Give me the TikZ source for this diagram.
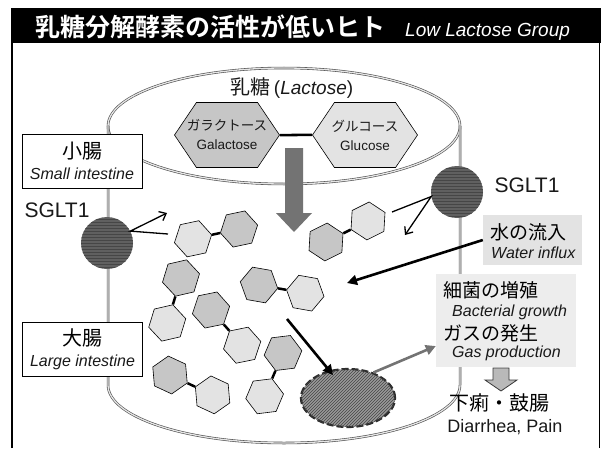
\documentclass[tikz,border=0pt]{standalone}
\usepackage{fontspec}
\setmainfont{Liberation Sans}
\newfontfamily\jp[BoldFont={Noto Sans CJK JP Bold}]{Noto Sans CJK JP}
\usetikzlibrary{shapes.geometric,shapes.symbols,arrows.meta,patterns}

\colorlet{galac}{gray!45}
\colorlet{gluc}{gray!22}
\colorlet{ink}{gray!20!black}
\newcommand{\slimtext}[1]{\makebox[0pt]{#1}}

\begin{document}
\begin{tikzpicture}[x=1pt,y=1pt,
    cyl/.style={draw=gray!60!black, double=gray!20, double distance=1.3pt, line width=0.6pt},
    hexa/.style={regular polygon, regular polygon sides=6, minimum size=38pt, inner sep=0pt, draw=black, line width=0.6pt},
    sugar/.style={signal, signal to=west and east, signal pointer angle=112, minimum width=105pt, minimum height=65pt,
      inner sep=0pt, draw=black, line width=0.6pt, align=center, font=\fontsize{13.5}{19}\selectfont, text=ink},
    bond/.style={line width=2.5pt},
    organ/.style={draw, fill=white, line width=0.6pt, minimum width=120pt, minimum height=54pt, inner sep=0pt,
      align=center, font=\fontsize{16}{21}\selectfont},
    sglt/.style={circle, minimum size=52pt, inner sep=0pt, fill=gray!75!black,
      postaction={pattern=horizontal lines, pattern color=gray!55!black}},
    note/.style={inner sep=0pt, text=ink, font=\fontsize{16}{21}\selectfont},
    jbig/.style={inner sep=0pt, font=\jp\fontsize{19}{21}\selectfont},
    arr/.style={line width=1.3pt, -{Straight Barb[length=6pt,width=10pt]}},
    fat/.style={line width=2.6pt, -{Triangle[length=10pt,width=10pt]}}]
  \useasboundingbox (0,0) rectangle (601,448);

  % frame and title
  \fill[black] (11,405) rectangle (601,440);
  \draw[line width=1.2pt] (12,0) -- (12,405) (599.5,0) -- (599.5,405);
  \node[anchor=base west, text=white, font=\jp\bfseries\fontsize{25}{27}\selectfont, inner sep=0pt] (title) at (35,411)
    {乳糖分解酵素の活性が低いヒト};
  \node[anchor=base west, text=white, font=\itshape\fontsize{19}{20}\selectfont, inner sep=0pt] (group) at (405,411)
    {Low Lactose Group};

  % intestine tube
  \draw[cyl] (284,322) ellipse [x radius=176, y radius=58];
  \draw[cyl] (108,322) -- (108,63) arc[start angle=180, end angle=360, x radius=176, y radius=58] -- (460,322);

  \fill[gray!90!black] (285,300) -- (285,235) -- (276,235) -- (294,216) -- (312,235) -- (303,235) -- (303,300) -- cycle;

  \node[inner sep=0pt, text=ink, font=\fontsize{19}{20}\selectfont] (lactose) at (292,360)
    {{\jp\fontsize{20}{20}\selectfont 乳糖}\,(\textit{Lactose})};
  \node[sugar, fill=galac] (gal) at (227,313) {\slimtext{\jp ガラクトース}\\\slimtext{Galactose}};
  \node[sugar, fill=gluc] (glc) at (365,313) {\slimtext{\jp グルコース}\\\slimtext{Glucose}};
  \draw[bond] (gal) -- (glc);

  \node[organ] (small) at (82,287)
    {{\jp\fontsize{20}{21}\selectfont 小腸}\\{\itshape\color{ink}Small intestine}};
  \node[organ] (large) at (82.5,99)
    {{\jp\fontsize{20}{21}\selectfont 大腸}\\{\itshape\color{ink}Large intestine}};

  \node[sglt] (sgltL) at (107,205) {};
  \node[sglt] (sgltR) at (457,256) {};
  \node[note, font=\fontsize{21}{22}\selectfont] (tagL) at (57,238) {SGLT1};
  \node[note, font=\fontsize{21}{22}\selectfont] (tagR) at (527,263) {SGLT1};

  \foreach \x/\y/\a [count=\i] in {239/219/192, 326/206/26.6, 181/170/253, 259/163/-10,
                                    211/138/-48.5, 170/73/-25, 283/95/-113} {
    \node[hexa, fill=galac, rotate=\a] (d\i) at (\x,\y) {};
    \node[hexa, fill=gluc, rotate=\a] (l\i) at ([shift={(\a:47)}]d\i) {};
    \draw[bond] (d\i) -- (l\i);
  }

  \coordinate (inL) at (168,214);
  \coordinate (outL) at (167,235);
  \coordinate (inR) at (392,236);
  \coordinate (outR) at (405,213);
  \draw[arr] (inL) -- (sgltL.27) -- (outL);
  \draw[arr] (inR) -- (sgltR.190) -- (outR);

  \node[fill=gray!22, minimum width=99pt, minimum height=50pt, inner sep=0pt] (water) at (532.5,208) {};
  \node[jbig, anchor=west] (w1) at (490,216) {水の流入};
  \node[note, anchor=west, font=\itshape\fontsize{16}{18}\selectfont] (w2) at (491,195) {Water influx};
  \coordinate (wet) at (347,165);
  \draw[fat] (water.west) -- (wet);

  \node[fill=gray!14, minimum width=140pt, minimum height=93pt, inner sep=0pt] (germ) at (506,127.5) {};
  \node[jbig, anchor=west] (g1) at (443,158) {細菌の増殖};
  \node[note, anchor=west, font=\itshape\fontsize{16}{18}\selectfont] (g2) at (452,136) {Bacterial growth};
  \node[jbig, anchor=west] (g3) at (443,115) {ガスの発生};
  \node[note, anchor=west, font=\itshape\fontsize{16}{18}\selectfont] (g4) at (452,95) {Gas production};

  \node[ellipse, minimum width=94pt, minimum height=58pt, inner sep=0pt, fill=gray!80,
    postaction={pattern=north east lines, pattern color=gray!55!black},
    draw=gray!35!black, line width=2.2pt, dash pattern=on 7pt off 3pt] (bact) at (348,50) {};
  \coordinate (src) at (287,129);
  \coordinate (tip) at (333,73);
  \draw[fat] (src) -- (tip);
  \draw[fat, draw=gray!90!black, fill=gray!90!black] (bact.45) -- (germ.200);

  \filldraw[fill=gray!55, draw=gray!45!black, line width=0.8pt]
    (493,80) -- (493,68) -- (485,68) -- (501,57) -- (517,68) -- (509,68) -- (509,80) -- cycle;
  \node[inner sep=0pt, font=\jp\fontsize{20}{22}\selectfont] (result) at (499,45) {下痢・鼓腸};
  \node[inner sep=0pt, text=ink, font=\fontsize{18}{20}\selectfont] (pain) at (505,21) {Diarrhea, Pain};
\end{tikzpicture}
\end{document}
